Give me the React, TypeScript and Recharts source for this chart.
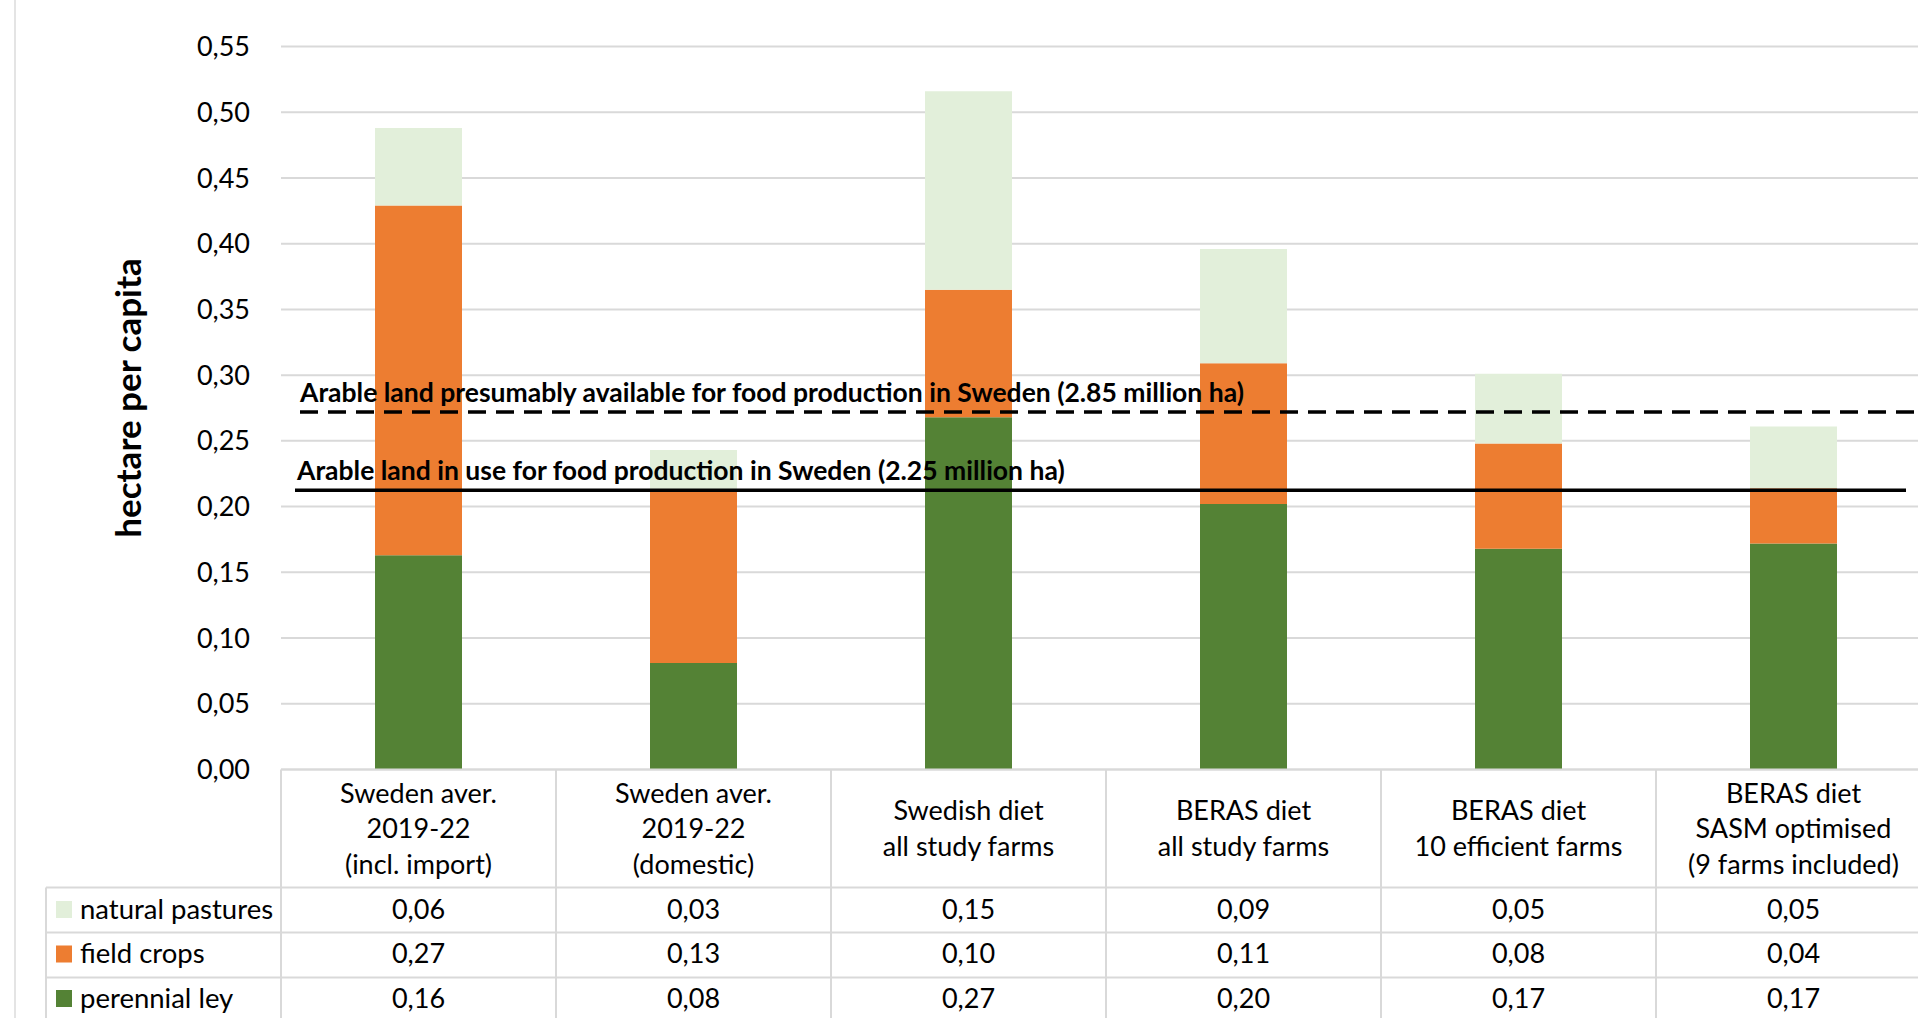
import { Bar, BarChart, CartesianGrid, ReferenceLine, XAxis, YAxis } from 'recharts';

const categories = [
  'Sweden aver.\n2019-22\n(incl. import)',
  'Sweden aver.\n2019-22\n(domestic)',
  'Swedish diet\nall study farms',
  'BERAS diet\nall study farms',
  'BERAS diet\n10 efficient farms',
  'BERAS diet\nSASM optimised\n(9 farms included)',
];

const perennialLey = [0.163, 0.081, 0.268, 0.202, 0.168, 0.172];
const fieldCrops = [0.266, 0.132, 0.097, 0.107, 0.08, 0.042];
const naturalPastures = [0.059, 0.03, 0.151, 0.087, 0.053, 0.047];

const yTicks = [0, 0.05, 0.1, 0.15, 0.2, 0.25, 0.3, 0.35, 0.4, 0.45, 0.5, 0.55];

const availableLand = 0.272;
const inUseLand = 0.2125;

const COLORS = {
  ley: '#548235',
  crops: '#ED7D31',
  pastures: '#E2EFDA',
};

const tableRows = [
  { name: 'natural pastures', color: COLORS.pastures, values: naturalPastures },
  { name: 'field crops', color: COLORS.crops, values: fieldCrops },
  { name: 'perennial ley', color: COLORS.ley, values: perennialLey },
];

const data = categories.map((name, i) => ({
  name,
  ley: perennialLey[i],
  crops: fieldCrops[i],
  pastures: naturalPastures[i],
}));

const FONT = 'Lato, sans-serif';
const CHART_W = 1931;
const CHART_H = 1030;
const Y_W = 281;
const BAND = (CHART_W - Y_W) / categories.length;
const GRID = '#d9d9d9';
const TABLE_LEFT = 46;
const TXT = 27;

const fmt = (v: number) => v.toFixed(2).replace('.', ',');

function TableTick(props: any) {
  const { x, y, payload } = props;
  const idx = categories.indexOf(payload.value);
  const lines = String(payload.value).split('\n');
  const rowLines = [118, 163, 208];
  const rowText = [138.5, 183, 227.5];
  return (
    <g>
      {idx === 0 && (
        <g>
          {rowLines.map((dy) => (
            <line key={dy} x1={TABLE_LEFT} x2={CHART_W} y1={y + dy} y2={y + dy} stroke={GRID} strokeWidth={2} />
          ))}
          <line x1={TABLE_LEFT} x2={TABLE_LEFT} y1={y + 118} y2={y + 270} stroke={GRID} strokeWidth={2} />
          {tableRows.map((r, ri) => (
            <g key={r.name}>
              <rect x={56} y={y + rowText[ri] - 7} width={16} height={17} fill={r.color} />
              <text x={80} y={y + rowText[ri]} dominantBaseline="central" fontSize={27.5} fontFamily={FONT} fill="#000">
                {r.name}
              </text>
            </g>
          ))}
        </g>
      )}
      <line x1={x - BAND / 2} x2={x - BAND / 2} y1={y} y2={y + 270} stroke={GRID} strokeWidth={2} />
      <line x1={x + BAND / 2} x2={x + BAND / 2} y1={y} y2={y + 270} stroke={GRID} strokeWidth={2} />
      {lines.map((ln, li) => (
        <text
          key={li}
          x={x}
          y={y + 58 + (li - (lines.length - 1) / 2) * 35.5}
          textAnchor="middle"
          dominantBaseline="central"
          fontSize={TXT}
          fontFamily={FONT}
          fill="#000"
        >
          {ln}
        </text>
      ))}
      {tableRows.map((r, ri) => (
        <text
          key={r.name}
          x={x}
          y={y + rowText[ri]}
          textAnchor="middle"
          dominantBaseline="central"
          fontSize={TXT}
          fontFamily={FONT}
          fill="#000"
        >
          {fmt(r.values[idx])}
        </text>
      ))}
    </g>
  );
}

function lineLabel(text: string, dx: number) {
  return (p: any) => (
    <text
      x={p.viewBox.x + dx}
      y={p.viewBox.y - 20}
      dominantBaseline="central"
      fontSize={26.5}
      fontWeight={700}
      fontFamily={FONT}
      fill="#000"
    >
      {text}
    </text>
  );
}

export default function App() {
  return (
    <div
      style={{
        position: 'fixed',
        left: 0,
        top: 0,
        width: 1918,
        height: 1018,
        overflow: 'hidden',
        background: '#fff',
      }}
    >
      <div style={{ position: 'absolute', left: 14, top: 0, width: 2, height: 1018, background: '#e4e4e4' }} />
      <div style={{ position: 'absolute', left: 0, top: 0 }}>
        <BarChart
          width={CHART_W}
          height={CHART_H}
          data={data}
          margin={{ top: 46.5, right: 0, bottom: 0, left: 0 }}
          barSize={87}
        >
          <CartesianGrid vertical={false} stroke={GRID} strokeWidth={2} />
          <XAxis
            dataKey="name"
            interval={0}
            height={CHART_H - 769.5}
            tickLine={false}
            tickSize={0}
            tickMargin={0}
            axisLine={{ stroke: GRID, strokeWidth: 2 }}
            tick={<TableTick />}
          />
          <YAxis
            width={Y_W}
            domain={[0, 0.55]}
            ticks={yTicks}
            interval={0}
            axisLine={false}
            tickLine={false}
            tickSize={0}
            tickMargin={31}
            tickFormatter={fmt}
            tick={{ fontSize: 27, fontFamily: FONT, fill: '#000' }}
            label={{
              content: () => (
                <text
                  x={127}
                  y={398}
                  transform="rotate(-90 127 398)"
                  textAnchor="middle"
                  dominantBaseline="central"
                  fontSize={35}
                  fontWeight={700}
                  fontFamily={FONT}
                  fill="#000"
                >
                  hectare per capita
                </text>
              ),
            }}
          />
          <Bar dataKey="ley" stackId="a" fill={COLORS.ley} isAnimationActive={false} />
          <Bar dataKey="crops" stackId="a" fill={COLORS.crops} isAnimationActive={false} />
          <Bar dataKey="pastures" stackId="a" fill={COLORS.pastures} isAnimationActive={false} />
          <ReferenceLine
            y={availableLand}
            stroke="#000"
            strokeWidth={3.5}
            strokeDasharray="18 10"
            shape={(p: any) => (
              <line x1={p.x1 + 19} y1={p.y1} x2={p.x2} y2={p.y2} stroke="#000" strokeWidth={3.5} strokeDasharray="18 10" />
            )}
            label={{ content: lineLabel('Arable land presumably available for food production in Sweden (2.85 million ha)', 19) }}
          />
          <ReferenceLine
            y={inUseLand}
            stroke="#000"
            strokeWidth={3.5}
            shape={(p: any) => (
              <line x1={p.x1 + 14} y1={p.y1} x2={1906} y2={p.y2} stroke="#000" strokeWidth={3.5} />
            )}
            label={{ content: lineLabel('Arable land in use for food production in Sweden (2.25 million ha)', 16) }}
          />
        </BarChart>
      </div>
    </div>
  );
}
